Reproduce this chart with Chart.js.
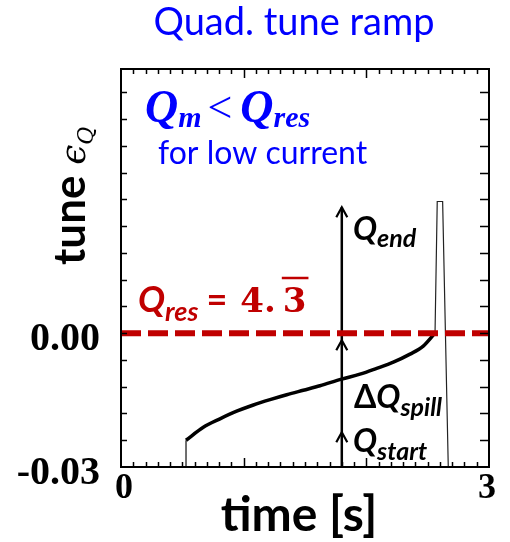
<!DOCTYPE html>
<html>
<head>
<meta charset="utf-8">
<script src="https://cdn.jsdelivr.net/npm/chart.js@4/dist/chart.umd.min.js"></script>
<style>
  body { margin: 0; background: #fff; }
  #grafica { display: block; }
</style>
</head>
<body>
<canvas id="grafica" width="510" height="542"></canvas>
<script>
//DATOS
const tiempoCurva = [0.53, 0.671, 0.807, 0.943, 1.079, 1.215, 1.351, 1.486, 1.622, 1.799, 1.948, 2.084, 2.22, 2.356, 2.464, 2.56];
const tuneCurva = [-0.024, -0.0211, -0.0192, -0.0175, -0.0161, -0.0149, -0.0138, -0.0128, -0.0118, -0.0103, -0.0092, -0.0079, -0.0065, -0.0047, -0.0029, 0];
const tiempoInicio = [0.46, 0.53, 0.53];
const tuneInicio = [-0.03, -0.03, -0.024];
const tiempoPico = [2.56, 2.578, 2.622, 2.668];
const tunePico = [0, 0.0295, 0.0295, -0.03];
const tuneRes = 0;
const flechaTiempo = 1.8;
const flechaNiveles = [-0.03, -0.0222, -0.0016, 0.0282];
const etiquetasX = ['0', '3'];
const valoresX = [0, 3];
const etiquetasY = ['-0.03', '0.00'];
const valoresY = [-0.03, 0];
//DATOS

const graph = document.getElementById('grafica');
const azul = '#0000ff';
const rojo = '#c00000';
const marcasX = [];
for (let i = 1; i < 30; i++) marcasX.push(i / 10); //cada 0.1 s
const marcasY = [];
for (let i = 1; i < 15; i++) marcasY.push(-0.03 + i * 0.006); //cada 0.006

function puntos(xs, ys) { //junta los arrays en pares x,y
    return xs.map((x, i) => ({ x: x, y: ys[i] }));
}

function escribir(ctx, x, y, partes) { //escribe varios trozos de texto seguidos (para subindices)
    partes.forEach(p => {
        ctx.font = p.font;
        ctx.fillStyle = p.color;
        ctx.fillText(p.t, x, y + (p.dy || 0));
        x += ctx.measureText(p.t).width + (p.sep || 0);
    });
    return x;
}

//PLUGIN
const marco = {
    id: 'marco',
    beforeDatasetsDraw(chart) { //flecha vertical con tres puntas
        const ctx = chart.ctx;
        const sx = chart.scales.x, sy = chart.scales.y;
        const fx = sx.getPixelForValue(flechaTiempo);
        ctx.save();
        ctx.strokeStyle = '#000';
        ctx.lineWidth = 2.5;
        ctx.beginPath();
        ctx.moveTo(fx, sy.getPixelForValue(flechaNiveles[0]));
        ctx.lineTo(fx, sy.getPixelForValue(flechaNiveles[flechaNiveles.length - 1]));
        ctx.stroke();
        ctx.lineWidth = 2.2;
        flechaNiveles.slice(1).forEach(v => {
            const py = sy.getPixelForValue(v);
            ctx.beginPath();
            ctx.moveTo(fx - 5.5, py + 10);
            ctx.lineTo(fx, py);
            ctx.lineTo(fx + 5.5, py + 10);
            ctx.stroke();
        });
        ctx.restore();
    },
    afterDraw(chart) {
        const ctx = chart.ctx;
        const a = chart.chartArea;
        const sx = chart.scales.x, sy = chart.scales.y;
        ctx.save();
        //marco
        ctx.strokeStyle = '#000';
        ctx.lineWidth = 2;
        ctx.strokeRect(a.left, a.top, a.right - a.left, a.bottom - a.top);
        //ticks hacia adentro
        ctx.lineWidth = 1.5;
        ctx.beginPath();
        marcasX.forEach(v => {
            const px = Math.round(sx.getPixelForValue(v)) + 0.5;
            const largo = v % 1 === 0 ? 9 : 5;
            ctx.moveTo(px, a.bottom); ctx.lineTo(px, a.bottom - largo);
            ctx.moveTo(px, a.top); ctx.lineTo(px, a.top + largo);
        });
        marcasY.forEach(v => {
            const py = Math.round(sy.getPixelForValue(v)) + 0.5;
            if (py <= a.top + 1) return;
            ctx.moveTo(a.left, py); ctx.lineTo(a.left + 6, py);
            ctx.moveTo(a.right, py); ctx.lineTo(a.right - 9, py);
        });
        ctx.stroke();

        //etiquetas de los ejes
        ctx.fillStyle = '#000';
        ctx.font = 'bold 40px "Liberation Serif"';
        ctx.textAlign = 'right';
        valoresY.forEach((v, i) => ctx.fillText(etiquetasY[i], 100, sy.getPixelForValue(v) + 17));
        ctx.font = 'bold 36px "Liberation Serif"';
        ctx.textAlign = 'center';
        valoresX.forEach((v, i) => ctx.fillText(etiquetasX[i], sx.getPixelForValue(v) + (i === 0 ? 3 : -2), 498));
        ctx.font = 'bold 48px Lato';
        ctx.fillText('time [s]', 299, 531);
        ctx.fillStyle = azul;
        ctx.font = '38px Lato';
        ctx.fillText('Quad. tune ramp', 294, 35);

        //titulo eje y girado
        ctx.save();
        ctx.translate(85, 265);
        ctx.rotate(-Math.PI / 2);
        ctx.textAlign = 'left';
        escribir(ctx, 0, 0, [
            { t: 'tune ', font: 'bold 44px Lato', color: '#000' },
            { t: 'ϵ', font: 'italic 36px "DejaVu Serif"', color: '#000' },
            { t: 'Q', font: 'italic 22px "DejaVu Serif"', color: '#000', dy: 8 }
        ]);
        ctx.restore();

        ctx.textAlign = 'left';
        //textos dentro del grafico
        escribir(ctx, 145, 122, [
            { t: 'Q', font: 'bold italic 46px "Liberation Serif"', color: azul },
            { t: 'm', font: 'bold italic 30px "Liberation Serif"', color: azul, dy: 5, sep: 6 },
            { t: '<', font: '44px "Liberation Serif"', color: azul, sep: 8 },
            { t: 'Q', font: 'bold italic 46px "Liberation Serif"', color: azul },
            { t: 'res', font: 'bold italic 30px "Liberation Serif"', color: azul, dy: 5 }
        ]);
        ctx.font = '32px Lato';
        ctx.fillStyle = azul;
        ctx.fillText('for low current', 158, 164);

        const xr = escribir(ctx, 138, 312, [
            { t: 'Q', font: 'bold italic 36px Lato', color: rojo },
            { t: 'res', font: 'bold italic 27px Lato', color: rojo, dy: 9, sep: 8 },
            { t: '=', font: 'bold 36px Lato', color: rojo, sep: 13 },
            { t: '4.', font: 'bold 34px "DejaVu Serif"', color: rojo, sep: 7 }
        ]);
        ctx.font = 'bold 34px "DejaVu Serif"';
        const w3 = ctx.measureText('3').width;
        ctx.fillText('3', xr, 312);
        ctx.strokeStyle = rojo;
        ctx.lineWidth = 2.5;
        ctx.beginPath();
        ctx.moveTo(xr - 1, 278); ctx.lineTo(xr + w3 + 2, 278);
        ctx.stroke();

        escribir(ctx, 353, 240, [
            { t: 'Q', font: 'bold italic 32px Lato', color: '#000' },
            { t: 'end', font: 'bold italic 25px Lato', color: '#000', dy: 7 }
        ]);
        escribir(ctx, 354, 408, [
            { t: 'Δ', font: 'bold 32px Lato', color: '#000' },
            { t: 'Q', font: 'bold italic 32px Lato', color: '#000' },
            { t: 'spill', font: 'bold italic 25px Lato', color: '#000', dy: 8 }
        ]);
        escribir(ctx, 353, 452, [
            { t: 'Q', font: 'bold italic 32px Lato', color: '#000' },
            { t: 'start', font: 'bold italic 25px Lato', color: '#000', dy: 8 }
        ]);
        ctx.restore();
    }
};
//PLUGIN

//GRAFICO
const config = {
    type: 'scatter',
    data: {
        datasets: [
            {
                data: puntos([0, 3], [tuneRes, tuneRes]),
                showLine: true,
                borderColor: rojo,
                borderWidth: 6,
                borderDash: [20, 7],
                pointRadius: 0,
                order: 0
            },
            {
                data: puntos(tiempoCurva, tuneCurva),
                showLine: true,
                borderColor: '#000',
                borderWidth: 3.5,
                cubicInterpolationMode: 'monotone',
                pointRadius: 0,
                order: 1
            },
            {
                data: puntos(tiempoInicio, tuneInicio),
                showLine: true,
                borderColor: '#222',
                borderWidth: 1.3,
                pointRadius: 0,
                order: 2
            },
            {
                data: puntos(tiempoPico, tunePico),
                showLine: true,
                borderColor: '#222',
                borderWidth: 1.2,
                pointRadius: 0,
                order: 2
            }
        ]
    },
    options: {
        responsive: false,
        animation: false,
        devicePixelRatio: 1,
        layout: { padding: { left: 121, right: 21, top: 69, bottom: 75 } },
        plugins: { legend: { display: false }, tooltip: { enabled: false } },
        scales: {
            x: {
                type: 'linear', min: 0, max: 3,
                ticks: { display: false },
                grid: { display: false }, border: { display: false },
                afterFit: s => { s.height = 0; }
            },
            y: {
                type: 'linear', min: -0.03, max: 0.0592,
                ticks: { display: false },
                grid: { display: false }, border: { display: false },
                afterFit: s => { s.width = 0; }
            }
        }
    },
    plugins: [marco]
};
const chart = new Chart(graph, config);
//GRAFICO
</script>
</body>
</html>
